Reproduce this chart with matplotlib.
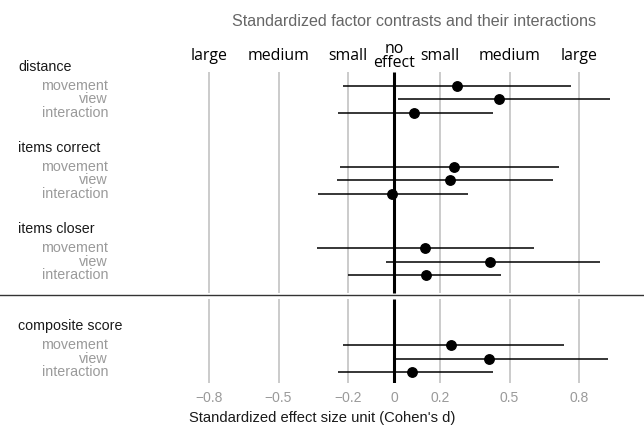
import matplotlib
matplotlib.use("Agg")
import matplotlib.pyplot as plt
import numpy as np

# effect sizes (Cohen's d)
groups = ["distance", "items correct", "items closer", "composite score"]
contrasts = ["movement", "view", "interaction"]
estimate = [[0.273, 0.455, 0.085],
            [0.261, 0.244, -0.010],
            [0.133, 0.416, 0.137],
            [0.245, 0.413, 0.080]]
ci_low = [[-0.219, 0.017, -0.242],
          [-0.235, -0.248, -0.329],
          [-0.332, -0.036, -0.198],
          [-0.220, 0.000, -0.242]]
ci_high = [[0.765, 0.934, 0.430],
           [0.716, 0.688, 0.322],
           [0.607, 0.892, 0.463],
           [0.735, 0.925, 0.427]]
tick_values = [-0.8, -0.5, -0.2, 0, 0.2, 0.5, 0.8]
tick_labels = ["\u22120.8", "\u22120.5", "\u22120.2", "0", "0.2", "0.5", "0.8"]
size_labels = ["large", "medium", "small", "no\neffect", "small", "medium", "large"]

plt.rcParams["font.family"] = ["Liberation Sans", "DejaVu Sans"]

fig = plt.figure(figsize=(6.44, 4.30), dpi=100)
ax = fig.add_axes([0, 1 - 383 / 430, 1, 311 / 430])
ax.set_xlim(-394 / 231, 250 / 231)
ax.set_ylim(22.33, -1.05)

# layout of the rows (in row units)
group_start = [0, 6.1, 12.2, 19.5]
sep_y = 15.7

# grid lines, split by the separator for the composite score
grid_x = [v for v in tick_values if v != 0]
ax.vlines(grid_x, -1.05, sep_y - 0.15, color="#bdbdbd", lw=1.1, zorder=1)
ax.vlines(grid_x, sep_y + 0.35, 22.33, color="#bdbdbd", lw=1.1, zorder=1)
ax.vlines([0], -1.05, sep_y - 0.15, color="black", lw=2.2, zorder=2)
ax.vlines([0], sep_y + 0.35, 22.33, color="black", lw=2.2, zorder=2)
ax.axhline(sep_y, color="#333333", lw=1.0, zorder=2)

ytr = ax.get_yaxis_transform()
for g, name in enumerate(groups):
    ys = group_start[g] + np.arange(len(contrasts))
    ax.hlines(ys, ci_low[g], ci_high[g], color="black", lw=1.1, zorder=3)
    ax.plot(estimate[g], ys, "o", color="black", ms=6.8, zorder=4)
    ax.text(18 / 644, group_start[g] - 1.45, name, transform=ytr,
            ha="left", va="center", fontsize=10.3, color="#1a1a1a")
    for y, lab in zip(ys, contrasts):
        ax.text(108 / 644, y, lab, transform=ytr, ha="right", va="center",
                fontsize=10.3, color="#9a9a9a")

# qualitative labels on top
xtr = ax.get_xaxis_transform()
for v, lab in zip(tick_values, size_labels):
    ax.text(v, 1.0514, lab, transform=xtr, ha="center", va="center",
            fontsize=11.4, family=["Open Sans", "DejaVu Sans"],
            linespacing=0.9, color="black")

ax.set_xticks(tick_values)
ax.set_xticklabels(tick_labels, color="#9a9a9a", fontsize=10)
ax.tick_params(axis="x", length=0, pad=6)
ax.set_yticks([])
for s in ax.spines.values():
    s.set_visible(False)
ax.set_xlabel("Standardized effect size unit (Cohen's d)", fontsize=10.6,
              color="#1a1a1a", labelpad=4)

fig.text(414 / 644, 1 - 21 / 430, "Standardized factor contrasts and their interactions",
         ha="center", va="center", fontsize=11.6, color="#666666")

fig.savefig("out.png", dpi=100)
